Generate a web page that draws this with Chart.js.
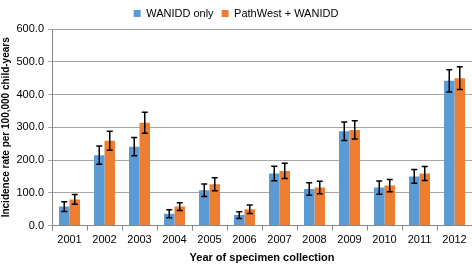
<!DOCTYPE html>
<html>
<head>
<meta charset="utf-8">
<script src="https://cdn.jsdelivr.net/npm/chart.js@4.4.0/dist/chart.umd.min.js"></script>
<style>
  html, body { margin: 0; padding: 0; background: #fff; }
  #wrap { width: 472px; height: 265px; }
</style>
</head>
<body>
<div id="wrap"><canvas id="rateChart"></canvas></div>
<script>
// years on the x axis
const years = ['2001', '2002', '2003', '2004', '2005', '2006', '2007', '2008', '2009', '2010', '2011', '2012'];
// WANIDD only
const wanidd = [58, 215, 241, 36, 108, 32, 159, 112, 288, 116, 150, 442];
const wanidd_err = [15, 28, 28, 12, 19, 10, 22, 19, 28, 20, 21, 34];
// PathWest + WANIDD
const pathwest = [80, 259, 314, 58, 126, 50, 167, 116, 292, 122, 159, 450];
const pathwest_err = [15, 29, 32, 12, 20, 13, 23, 19, 28, 19, 21, 35];

const errs = [wanidd_err, pathwest_err];

// error bars drawn from the data through the y scale
const errorBars = {
    id: 'errorBars',
    afterDatasetsDraw(chart) {
        const ctx = chart.ctx;
        const y = chart.scales.y;
        ctx.save();
        ctx.strokeStyle = '#000';
        ctx.lineWidth = 1.5;
        chart.data.datasets.forEach((ds, i) => {
            const meta = chart.getDatasetMeta(i);
            meta.data.forEach((bar, j) => {
                const v = ds.data[j];
                const e = errs[i][j];
                const top = y.getPixelForValue(v + e);
                const bot = y.getPixelForValue(v - e);
                const x = bar.x;
                ctx.beginPath();
                ctx.moveTo(x, top); ctx.lineTo(x, bot);
                ctx.moveTo(x - 3, top); ctx.lineTo(x + 3, top);
                ctx.moveTo(x - 3, bot); ctx.lineTo(x + 3, bot);
                ctx.stroke();
            });
        });
        ctx.restore();
    }
};

const ChartA = document.getElementById('rateChart');
const rateChart = new Chart(ChartA, {
    type: 'bar',
    data: {
        labels: years,
        datasets: [{
            label: 'WANIDD only',
            data: wanidd,
            backgroundColor: '#5b9bd5',
            categoryPercentage: 0.6,
            barPercentage: 1.0
        },
        {
            label: 'PathWest + WANIDD',
            data: pathwest,
            backgroundColor: '#ed7d31',
            categoryPercentage: 0.6,
            barPercentage: 1.0
        }]
    },
    options: {
        responsive: true,
        maintainAspectRatio: false,
        animation: false,
        layout: { padding: { top: 0, right: 0, left: 0, bottom: 0 } },
        scales: {
            x: {
                grid: { drawOnChartArea: false, drawTicks: true, tickLength: 5, color: '#888' },
                border: { display: true, color: '#888' },
                ticks: { color: '#000', font: { family: 'Liberation Sans', size: 11 }, padding: 3 },
                title: {
                    display: true,
                    text: 'Year of specimen collection',
                    color: '#000',
                    font: { family: 'Liberation Sans', size: 11, weight: 'bold' },
                    padding: { top: 2, bottom: 0 }
                }
            },
            y: {
                min: 0,
                max: 600,
                afterFit: (scale) => { scale.width = 52; },
                ticks: {
                    stepSize: 100,
                    color: '#000',
                    font: { family: 'Liberation Sans', size: 11 },
                    padding: 4,
                    callback: (v) => v.toFixed(1)
                },
                grid: { color: '#a6a6a6', lineWidth: 1, tickLength: 4 },
                border: { display: true, color: '#888' },
                title: {
                    display: true,
                    text: 'Incidence rate per 100,000 child-years',
                    color: '#000',
                    font: { family: 'Liberation Sans', size: 10, weight: 'bold' },
                    padding: { top: 0, bottom: 0 }
                }
            }
        },
        plugins: {
            legend: {
                display: true,
                position: 'top',
                labels: {
                    boxWidth: 7,
                    boxHeight: 7,
                    color: '#000',
                    padding: 8,
                    font: { family: 'Liberation Sans', size: 11 }
                }
            },
            tooltip: { enabled: false }
        }
    },
    plugins: [errorBars]
});
</script>
</body>
</html>
